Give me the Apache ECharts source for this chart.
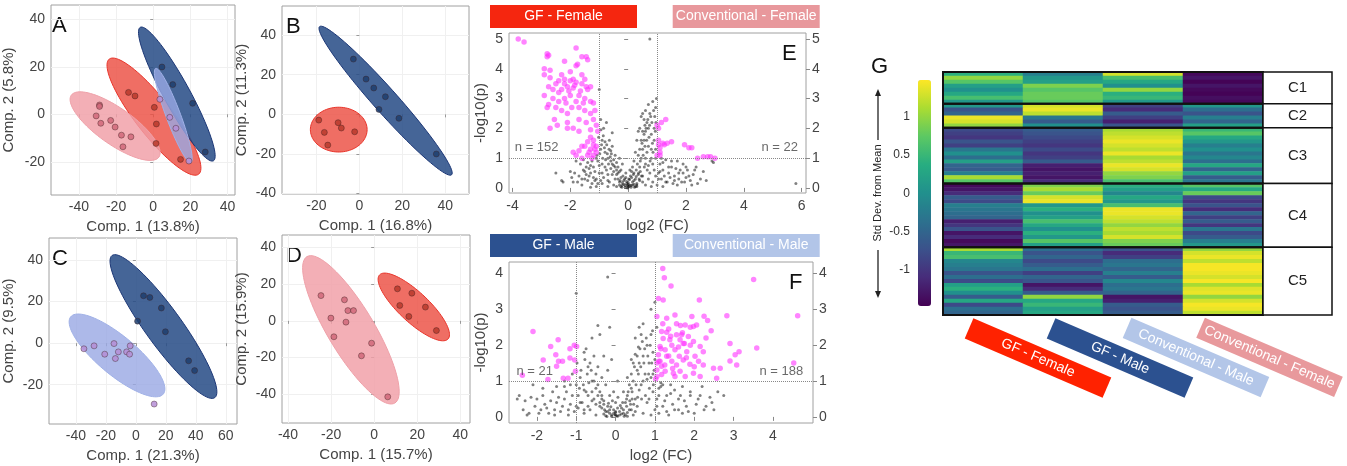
<!DOCTYPE html>
<html>
<head>
<meta charset="utf-8">
<script src="https://cdn.jsdelivr.net/npm/echarts@6/dist/echarts.min.js"></script>
<style>html,body{margin:0;padding:0;background:#fff}#main{width:1347px;height:466px}</style>
</head>
<body>
<div id="main"></div>
<script>
// ---- PCA panels: points [comp1, comp2] ----
const aGfF = [[-13.3,9.2],[-9.8,7.7],[0.6,2.9],[1.7,-4.1],[1.5,-12.3],[14.7,-19.0]];
const aConvF = [[-28.9,3.9],[-28.9,3.3],[-30.7,-0.7],[-28.2,-3.8],[-22.9,-2.6],[-20.5,-5.4],[-17.1,-8.8],[-16.3,-13.7],[-12.0,-9.5]];
const aGfM = [[4.7,19.9],[10.5,12.5],[21.2,4.6],[28.0,-15.9]];
const aConvM = [[3.6,6.3],[8.9,-1.3],[12.2,-5.9],[19.2,-19.7]];
const bGfF = [[-18.9,-2.9],[-16.3,-9.1],[-14.7,-15.5],[-9.9,-4.2],[-8.4,-6.9],[-2.2,-8.8]];
const bGfM = [[-2.8,27.9],[3.1,17.8],[6.7,13.3],[12.1,8.9],[9.1,2.5],[18.4,-2.0],[35.8,-20.0]];
const cGfM = [[5.1,22.8],[9.3,22.0],[17.0,16.9],[1.1,10.6],[19.7,5.5],[35.2,-8.5],[39.2,-13.2]];
const cConvM = [[-34.7,-2.7],[-27.9,-1.3],[-20.8,-5.3],[-14.6,-0.2],[-13.7,-7.4],[-11.7,-4.2],[-6.2,-4.2],[-4.2,-5.3],[-3.8,-1.3],[12.2,-29.3]];
const dConvF = [[-24.7,13.8],[-20.1,1.5],[-18.7,-8.7],[-13.8,11.5],[-12.2,5.6],[-13.1,-0.7],[-9.6,5.6],[-1.2,-12.2],[-5.9,-19.1],[6.3,-41.5]];
const dGfF = [[10.8,17.5],[17.5,15.1],[11.9,8.4],[23.8,7.5],[16.1,2.4],[28.9,-5.3]];

// ellipses: [centre x, centre y, semi-axis 1 (dx, dy), semi-axis 2 (dx, dy)] in data units
const aEllGfF = [0.4,-1.0,24.1,-24.2,7.6,4.8];
const aEllConvF = [-20.5,-5.0,23.6,-13.0,5.5,6.3];
const aEllGfM = [12.7,8.5,19.7,-28.1,6.1,2.75];
const aEllConvM = [10.8,-0.5,9.5,-19.8,3.6,1.1];
const bEllGfF = [-9.6,-7.7,13.2,0,0,11.3];
const bEllGfM = [12.2,6.9,30.7,-37.4,4.2,4.0];
const cEllConvM = [-12.6,-5.9,31.0,-18.5,7.8,7.4];
const cEllGfM = [18.4,8.0,34.3,-34.2,9.8,5.2];
const dEllConvF = [-10.8,-4.9,20.4,-40.0,9.3,6.5];
const dEllGfF = [18.4,7.6,15.9,-17.5,4.7,6.0];

// ---- volcano plots: [log2 FC, -log10 p] ----
const eUp = [[-3.8,5.0],[-3.6,4.9],[-2.8,4.5],[-2.75,4.45],[-2.8,4.4],[-1.8,4.7],[-1.6,4.4],[-1.45,4.4],[-1.4,4.3],[-1.75,4.15],[-1.8,4.1],[-2.2,4.25],[-2.9,4.0],[-2.7,3.95],[-2.9,3.8],[-2.7,3.7],[-2.4,3.6],[-2.2,3.5],[-2.0,3.6],[-1.9,3.65],[-1.8,3.55],[-1.6,3.5],[-1.45,3.4],[-1.4,3.3],[-1.3,3.4],[-2.1,3.4],[-2.3,3.3],[-2.5,3.5],[-2.6,3.3],[-2.75,3.4],[-2.9,3.1],[-2.6,3.0],[-2.4,2.9],[-2.2,3.0],[-2.0,3.1],[-1.8,2.9],[-1.7,3.1],[-1.5,3.0],[-1.3,2.9],[-1.2,2.85],[-1.15,2.6],[-1.3,2.5],[-1.5,2.6],[-1.7,2.7],[-1.95,2.7],[-2.1,2.5],[-2.3,2.6],[-2.5,2.7],[-2.75,2.8],[-2.8,2.7],[-2.55,2.3],[-2.1,2.2],[-1.9,2.0],[-1.7,2.3],[-1.45,2.2],[-1.2,2.3],[-2.7,2.0],[-2.45,2.1],[-2.1,2.0],[-1.7,1.9],[-1.3,1.7],[-1.2,1.6],[-1.4,1.55],[-1.5,1.4],[-1.3,1.3],[-1.15,1.3],[-1.1,1.2],[-1.6,1.4],[-1.7,1.25],[-1.4,1.1],[-1.2,1.1],[-1.8,1.1],[-1.9,1.2],[-1.1,1.4],[-1.05,1.9],[-1.1,2.1],[-1.3,1.95],[-2.0,3.9],[-2.3,3.8],[-1.9,3.35],[-2.4,3.2],[-1.6,3.8],[-1.5,3.65],[-2.15,2.85],[-1.55,2.85],[-1.2,1.45],[-1.35,1.2],[-1.25,1.0],[-1.6,1.0],[-2.2,3.65],[-1.85,3.45],[-1.65,3.25],[-2.05,3.25],
  [1.05,1.45],[1.1,1.35],[1.3,2.3],[1.15,2.2],[1.05,2.0],[1.1,1.1],[1.2,1.5],[1.35,1.5],[1.95,1.45],[2.1,1.35],[2.2,1.35],[2.4,1.0],[2.6,1.05],[2.75,1.05],[2.85,1.05],[3.0,1.0],[1.0,1.1],[1.1,1.2],[1.0,2.1],[1.05,1.6],[1.25,1.45],[1.5,1.55]];
const eAll = [[0.0,0.05],[0.05,0.1],[-0.05,0.15],[0.1,0.02],[-0.1,0.08],[0.15,0.2],[-0.15,0.25],[0.2,0.12],[-0.2,0.1],[0.25,0.3],[-0.25,0.35],[0.3,0.05],[-0.3,0.2],[0.35,0.45],[-0.35,0.5],[0.02,0.3],[-0.02,0.0],[0.08,0.4],[-0.08,0.35],[0.12,0.55],[-0.4,0.6],[-0.45,0.3],[-0.5,0.75],[-0.55,0.45],[-0.6,0.9],[-0.65,0.2],[-0.7,1.0],[-0.75,0.6],[-0.8,1.2],[-0.85,0.35],[-0.9,0.8],[-0.95,1.3],[-1.0,0.5],[-1.05,0.9],[-1.1,0.3],[-1.2,0.7],[-1.25,0.15],[-1.3,0.5],[-1.4,0.85],[-1.5,0.3],[-1.55,0.6],[-1.6,0.1],[-1.7,0.4],[-1.8,0.9],[-1.9,0.2],[-2.0,0.55],[-2.5,0.5],[-2.3,0.25],[-0.9,1.6],[-0.8,1.55],[-0.55,1.4],[-0.3,1.0],[-0.2,0.8],[-0.45,1.1],[-0.6,1.25],[-0.75,2.2],[-0.95,2.3],[-1.0,3.3],[-0.5,0.1],[-0.7,0.05],[-0.9,0.15],[-1.1,0.05],[-1.3,0.02],[-0.4,0.05],
  [0.4,0.7],[0.45,1.0],[0.5,1.3],[0.5,0.4],[0.55,1.6],[0.6,1.9],[0.6,0.8],[0.65,2.2],[0.7,1.4],[0.7,0.3],[0.75,2.5],[0.8,1.8],[0.8,1.0],[0.85,2.9],[0.9,2.0],[0.9,0.6],[0.95,2.7],[0.95,1.3],[0.5,2.5],[0.45,2.4],[0.35,1.9],[0.3,1.6],[0.25,1.2],[0.2,0.9],[0.4,2.0],[0.55,2.3],[0.65,1.2],[0.75,0.5],[0.85,0.2],[0.95,0.4],[1.1,0.8],[1.15,0.3],[1.2,0.6],[1.3,0.95],[1.35,0.2],[1.4,0.5],[1.5,0.7],[1.55,0.15],[1.6,0.4],[1.7,0.9],[1.75,0.3],[1.8,0.6],[1.9,0.5],[1.95,0.2],[2.0,0.7],[2.1,0.4],[2.2,0.1],[2.3,0.6],[2.5,0.3],[2.7,0.25],[2.9,0.9],[2.95,0.85],[0.3,0.1],[0.6,0.1],[0.8,0.05],[1.0,0.1],[1.2,0.05],[0.75,5.0],[5.8,0.15],[-2.25,0.2],[0.2,0.5],[0.15,0.7],[1.05,0.5],[0.7,2.0],[0.6,2.6],
  [-0.1,0.02],[0.0,0.12],[0.1,0.08],[-0.2,0.18],[0.2,0.25],[-0.3,0.1],[0.3,0.15],[-0.12,0.3],[0.12,0.35],[-0.05,0.22],[0.05,0.28],[-0.25,0.05],[0.25,0.05],[-0.18,0.4],[0.18,0.45],[-0.35,0.3],[0.38,0.3],[-0.4,0.45],[0.42,0.55],[-0.08,0.5],[0.06,0.6],[0.0,0.18],[-0.15,0.12],[0.15,0.1],[-0.28,0.25],[0.28,0.38],[-0.02,0.08],[0.03,0.04],[-0.22,0.02],[0.22,0.02],
  [-0.45,0.7],[-0.5,0.55],[-0.55,0.8],[-0.6,0.65],[-0.62,1.05],[-0.68,0.8],[-0.72,1.15],[-0.78,0.95],[-0.82,1.35],[-0.88,1.0],[-0.92,1.45],[-0.98,1.15],[-1.02,1.7],[-1.08,1.1],[-0.5,0.95],[-0.58,1.15],[-0.66,1.3],[-0.74,1.45],[-0.86,1.75],[-0.94,1.95],[-0.4,0.85],[-0.35,0.7],[-0.3,0.55],[-0.25,0.6],[-0.7,0.45],[-0.8,0.7],[-0.9,0.5],[-1.0,0.75],[-1.15,0.55],[-1.25,0.9],[-1.35,0.65],[-1.45,0.45],[-1.1,1.0],[-0.65,1.6],[-0.55,1.85],[-0.85,2.0],[-0.7,0.25],[-0.95,0.25],[-1.2,0.35],[-1.4,0.25],
  [0.35,1.1],[0.4,1.3],[0.42,0.9],[0.48,1.5],[0.52,1.1],[0.55,1.8],[0.58,1.4],[0.62,2.0],[0.64,1.6],[0.68,2.3],[0.72,1.7],[0.74,2.1],[0.78,2.4],[0.82,2.2],[0.84,1.5],[0.88,2.6],[0.92,2.4],[0.94,1.9],[0.98,3.0],[0.96,2.2],[0.86,1.2],[0.76,0.9],[0.66,0.6],[0.56,0.7],[0.46,0.4],[0.36,0.5],[0.32,0.8],[0.28,0.6],[0.45,1.6],[0.5,1.9],[0.58,2.1],[0.7,2.8],[0.6,1.0],[0.7,0.75],[0.8,1.3],[0.9,1.6],[0.85,0.8],[0.95,1.0],[0.4,0.25],[0.5,0.2],
  [1.05,0.3],[1.1,0.55],[1.2,0.85],[1.25,0.4],[1.3,0.2],[1.45,0.35],[1.5,0.9],[1.6,0.25],[1.65,0.65],[1.75,0.5],[1.85,0.2],[1.9,0.8],[2.0,0.35],[2.05,0.6],[2.15,0.25],[2.25,0.45],[2.35,0.7],[2.4,0.15],[2.6,0.55],[1.15,1.0],[1.4,0.7],[1.7,0.1],
  [-1.05,0.15],[-1.15,0.25],[-1.35,0.4],[-1.5,0.55],[-1.6,0.3],[-1.65,0.8],[-1.75,0.2],[-1.85,0.5],[-1.95,0.35],[-1.55,0.95],[-1.45,0.7],[-1.3,0.75]];
const fUp = [[1.2,4.14],[1.24,3.88],[1.41,3.65],[3.51,3.83],[1.09,3.3],[1.21,3.26],[2.13,3.26],[1.05,2.8],[1.3,2.75],[1.51,2.84],[1.94,2.8],[2.25,2.81],[2.83,2.82],[4.63,2.82],[2.34,2.69],[1.77,2.56],[1.98,2.52],[2.06,2.56],[2.43,2.4],[1.17,2.38],[1.3,2.36],[1.55,2.29],[1.68,2.29],[1.85,2.24],[1.21,2.19],[1.38,2.15],[1.64,2.15],[1.43,2.0],[1.72,2.05],[1.98,2.1],[2.15,1.96],[2.91,2.05],[1.13,1.96],[1.26,1.87],[1.51,1.87],[1.81,1.82],[2.23,1.82],[3.14,1.82],[3.59,1.92],[3.04,1.73],[1.09,1.73],[1.3,1.69],[1.62,1.69],[2.02,1.69],[1.13,1.55],[1.43,1.55],[1.72,1.59],[2.11,1.55],[2.91,1.56],[1.17,1.41],[1.55,1.45],[1.89,1.47],[2.23,1.45],[3.08,1.45],[2.49,1.36],[2.66,1.36],[4.53,1.5],[1.05,1.31],[1.26,1.27],[1.47,1.22],[1.64,1.27],[1.98,1.22],[2.15,1.13],[2.57,1.08],[1.05,1.13],[1.17,1.18],[1.51,1.13],[1.77,1.13],[1.02,1.06],[1.35,2.45],[1.55,2.6],[1.2,2.6],[1.7,2.35],[1.9,2.0],[1.45,1.35],[1.6,1.95],[1.8,1.65],[2.0,1.4],[1.35,1.7],[1.25,1.45],[1.1,1.55],[1.4,2.25],[1.65,2.55],[2.3,2.2],[1.15,1.9],[1.05,1.5],[1.9,2.5],[1.75,2.05],
  [-2.1,2.38],[-1.46,2.15],[-1.65,1.96],[-1.05,2.0],[-0.99,1.96],[-1.16,1.9],[-1.52,1.73],[-1.84,1.59],[-1.45,1.55],[-1.35,1.55],[-1.5,1.41],[-1.16,1.64],[-1.04,1.59],[-1.02,1.27],[-1.72,1.04],[-1.33,1.08],[-1.21,1.08],[-2.37,1.16]];
const fAll = [[0,0.05],[0.05,0.02],[-0.05,0.1],[0.1,0.15],[-0.1,0.05],[0.15,0.25],[-0.15,0.2],[0.2,0.1],[-0.2,0.3],[0.25,0.4],[-0.25,0.15],[0.3,0.6],[-0.3,0.45],[0.35,0.2],[-0.35,0.6],[0.4,0.8],[-0.4,0.3],[0.45,1.0],[-0.45,0.9],[0.5,0.5],[-0.5,1.2],[0.55,1.3],[-0.55,0.5],[0.6,1.5],[-0.6,1.0],[0.65,0.9],[-0.65,0.2],[0.7,1.7],[-0.7,1.4],[0.75,1.2],[-0.75,0.7],[0.8,2.0],[-0.8,1.8],[0.85,1.5],[-0.85,0.4],[0.9,2.3],[-0.9,1.1],[0.95,1.8],[-0.95,0.6],[0.6,2.5],[0.7,2.6],[0.5,2.2],[0.55,0.3],[-0.2,1.3],[-0.3,1.7],[-0.4,2.3],[-0.45,2.55],[-0.6,2.2],[-0.2,3.9],[-1.0,3.45],[-0.15,2.5],[-0.05,0.7],[0.05,1.0],[-0.1,1.6],[0.0,0.4],[0.2,0.7],[0.3,1.1],[0.4,1.6],
  [-1.0,0.3],[-1.1,0.6],[-1.15,0.9],[-1.2,0.2],[-1.3,0.5],[-1.4,0.15],[-1.5,0.4],[-1.6,0.7],[-1.7,0.1],[-1.8,0.35],[-1.9,0.2],[-2.0,0.5],[-2.2,0.1],[-2.3,0.45],[-2.45,0.6],[-2.25,0.05],[-2.1,0.9],[-1.85,0.8],[-1.3,1.0],[-1.1,1.2],[-1.0,0.9],[-1.2,0.05],[-1.55,0.05],
  [1.0,0.2],[1.05,0.5],[1.1,0.8],[1.15,0.95],[1.2,0.3],[1.3,0.6],[1.4,0.9],[1.5,0.2],[1.6,0.5],[1.7,0.85],[1.8,0.3],[1.9,0.6],[2.0,0.1],[2.1,0.5],[2.2,0.85],[2.3,0.3],[2.4,0.55],[2.5,0.2],[2.75,0.6],[1.0,1.6],[1.05,2.5],[1.0,3.2],[0.9,3.0],[0.95,1.2],[0.8,0.4],[0.7,0.1],[0.9,0.05],[1.1,0.1],[1.35,0.05],[0.45,0.05],[0.3,0.02],[-0.5,0.05],[-0.8,0.1],
  [-0.1,0.02],[0.0,0.12],[0.1,0.05],[-0.2,0.15],[0.2,0.2],[-0.3,0.08],[0.3,0.12],[-0.12,0.28],[0.12,0.32],[-0.05,0.2],[0.05,0.25],[-0.25,0.03],[0.25,0.06],[-0.18,0.38],[0.18,0.4],[-0.35,0.25],[0.38,0.35],[-0.4,0.4],[0.42,0.5],[-0.08,0.45],[0.06,0.55],[0.0,0.15],[-0.15,0.1],[0.15,0.08],[-0.28,0.2],[0.28,0.3],[-0.02,0.06],[0.03,0.03],[-0.22,0.01],[0.22,0.02],
  [-0.45,0.6],[-0.5,0.8],[-0.55,1.0],[-0.6,0.7],[-0.62,1.3],[-0.68,0.95],[-0.72,1.2],[-0.78,1.6],[-0.82,0.9],[-0.88,1.3],[-0.92,0.8],[-0.98,1.5],[-0.5,0.35],[-0.6,0.45],[-0.7,0.6],[-0.8,0.75],[-0.9,0.4],[-0.4,0.7],[-0.35,0.5],[-0.3,0.35],[-0.65,1.5],[-0.55,1.7],[-0.75,1.9],[-0.45,1.4],[-0.35,1.1],[-0.25,0.9],[-0.15,0.6],[-0.7,0.3],[-0.8,0.2],[-0.95,0.25],
  [0.35,0.9],[0.4,1.2],[0.42,0.7],[0.48,1.4],[0.52,0.9],[0.55,1.7],[0.58,1.2],[0.62,1.9],[0.64,1.4],[0.68,2.1],[0.72,1.5],[0.74,1.9],[0.78,2.2],[0.82,1.7],[0.84,1.2],[0.88,2.0],[0.92,1.5],[0.94,2.4],[0.98,1.3],[0.96,0.9],[0.86,0.8],[0.76,0.6],[0.66,0.5],[0.56,0.55],[0.46,0.35],[0.36,0.45],[0.32,0.7],[0.28,0.5],[0.45,1.5],[0.5,1.75],[0.58,1.95],[0.65,2.3],[0.6,0.75],[0.7,1.0],[0.8,1.05],[0.9,1.1],[0.85,0.5],[0.95,0.7],[0.4,0.2],[0.5,0.15],
  [1.05,0.3],[1.1,0.6],[1.2,0.9],[1.25,0.45],[1.3,0.15],[1.45,0.35],[1.5,0.75],[1.6,0.2],[1.65,0.6],[1.75,0.45],[1.85,0.15],[1.9,0.7],[2.05,0.35],[2.15,0.6],[2.25,0.2],[2.45,0.4],[2.6,0.7],[1.15,0.85],[1.4,0.65],[1.7,0.1],
  [-1.05,0.15],[-1.15,0.35],[-1.25,0.7],[-1.35,0.3],[-1.45,0.55],[-1.55,0.2],[-1.65,0.45],[-1.75,0.25],[-1.85,0.6],[-1.95,0.1],[-2.05,0.3],[-2.15,0.55],[-2.35,0.2],[-2.5,0.5],[-1.5,0.85],[-1.3,0.85]];
const eCounts = [[-3.92,1.37,'n = 152','left'],[5.87,1.37,'n = 22','right']];
const fCounts = [[-2.52,1.27,'n = 21','left'],[4.77,1.27,'n = 188','right']];

// ---- heatmap (std dev from mean), columns in group order ----
const groups = ['GF - Female','GF - Male','Conventional - Male','Conventional - Female'];
const clusterNames = ['C1','C2','C3','C4','C5'];
const c1 = [[0.4,-0.2,1.3,-1.4],[1.0,0.1,0.6,-1.3],[0.7,0.2,0.3,-1.45],[0.2,0.9,0.0,-1.3],[0.0,0.7,1.0,-1.4],[0.3,0.8,0.4,-1.45],[0.6,0.8,0.5,-1.35],[0.1,0.7,0.1,-1.4]];
const c2 = [[0.1,1.3,-0.9,0.1],[-0.7,1.4,-1.1,-0.4],[-0.5,1.2,-0.6,-0.7],[1.4,-0.3,-0.9,-0.2],[1.3,-0.6,-1.2,-0.5],[1.0,0.0,-0.7,0.2]];
const c3 = [[-0.8,-0.6,1.1,0.5],[-0.9,-0.7,1.2,0.7],[-1.0,-0.8,1.3,0.3],[-0.7,-0.9,1.4,0.1],[-0.9,-1.0,1.3,-0.2],[-0.3,-0.8,1.2,0.0],[0.0,-1.0,1.4,-0.3],[-0.4,-0.9,1.1,-0.1],[0.2,-0.6,1.2,-0.4],[-0.5,-1.2,1.4,0.3],[-0.6,-1.3,1.3,-0.5],[-0.2,-1.2,1.0,0.2],[1.1,-1.3,0.9,-0.6],[0.7,-1.1,0.6,-0.3]];
const c4 = [[-1.4,0.9,0.4,0.7],[-1.3,1.1,0.2,0.3],[-1.1,0.8,-0.1,0.8],[-0.6,1.3,0.3,-0.8],[-0.8,1.4,0.1,-1.0],[-0.2,0.1,0.6,-0.7],[-0.3,0.4,1.4,-1.1],[-0.4,0.0,1.4,-0.5],[-0.5,0.2,1.3,-0.9],[-1.2,0.6,1.2,-0.6],[-1.0,0.3,1.0,-1.0],[-0.7,0.0,1.2,-0.3],[-1.3,0.4,1.1,-0.8],[-1.1,0.1,1.3,-0.6],[-1.4,0.7,0.9,-0.2],[-1.3,0.2,0.8,0.1]];
const c5 = [[1.1,-0.4,-0.7,1.0],[0.5,-0.7,-1.1,1.3],[0.6,-0.5,-0.9,1.4],[-0.1,-0.8,-0.4,1.2],[-0.2,-0.6,-0.3,1.45],[-0.3,-0.4,-0.5,1.45],[-0.7,-0.9,-0.2,1.4],[-0.4,-0.5,-0.6,1.3],[-0.8,-0.7,-0.1,1.45],[0.2,-1.3,-0.4,1.1],[0.4,-1.1,-0.3,1.35],[0.0,-0.6,-0.5,1.4],[-0.6,1.0,-1.3,1.0],[0.3,0.3,-1.2,1.3],[-0.8,0.5,-0.6,1.45],[-0.4,0.2,-0.7,1.4],[-0.5,0.3,-0.6,1.2]];
const colorbarTicks = [-1,-0.5,0,0.5,1];

const FONT = 'Liberation Sans, Arial, sans-serif';
const TXT = '#444';
const viridis = ['#440154','#472c7a','#3b518b','#2c718e','#21908d','#27ad81','#5cc863','#aadc32','#fde725'];
const sty = {
  gfF:   {fill:'rgba(236,78,66,0.82)',  stroke:'#e8342a', pt:'#b8392c'},
  convF: {fill:'rgba(240,158,166,0.82)',stroke:'#eea0a8', pt:'#d0687a'},
  gfM:   {fill:'rgba(38,76,134,0.86)',  stroke:'#1b3675', pt:'#1f3f6e'},
  convM: {fill:'rgba(152,168,228,0.8)', stroke:'#9fb0e6', pt:'#b58ed6'}
};

const pca = [
  {l:'A', g:{left:48,top:5,width:187,height:190}, x:[-55,44], y:[-34,46], xt:[-40,-20,0,20,40], yt:[-20,0,20,40], xn:'Comp. 1 (13.8%)', yn:'Comp. 2 (5.8%)', gap:35,
   sets:[['gfF',aGfF,aEllGfF],['convF',aConvF,aEllConvF],['gfM',aGfM,aEllGfM],['convM',aConvM,aEllConvM]]},
  {l:'B', g:{left:282,top:6,width:187,height:188}, x:[-36,51], y:[-40.2,54.7], xt:[-20,0,20,40], yt:[-40,-20,0,20,40], xn:'Comp. 1 (16.8%)', yn:'Comp. 2 (11.3%)', gap:33,
   sets:[['gfF',bGfF,bEllGfF],['gfM',bGfM,bEllGfM]]},
  {l:'C', g:{left:48,top:238,width:189,height:186}, x:[-58,67.5], y:[-38.9,50.6], xt:[-40,-20,0,20,40,60], yt:[-20,0,20,40], xn:'Comp. 1 (21.3%)', yn:'Comp. 2 (9.5%)', gap:33,
   sets:[['convM',cConvM,cEllConvM],['gfM',cGfM,cEllGfM]]},
  {l:'D', g:{left:282,top:235,width:188,height:188}, x:[-42.8,44.5], y:[-55.8,46.9], xt:[-40,-20,0,20,40], yt:[-40,-20,0,20,40], xn:'Comp. 1 (15.7%)', yn:'Comp. 2 (15.9%)', gap:33,
   sets:[['convF',dConvF,dEllConvF],['gfF',dGfF,dEllGfF]]}
];

const grid = [], xAxis = [], yAxis = [], series = [], graphic = [];
const lbl = (vals, extra) => Object.assign({customValues: vals, fontSize: 14, color: TXT, fontFamily: FONT}, extra || {});

function ellipseSeries(gi, e, s) {
  return {
    type: 'custom', xAxisIndex: gi, yAxisIndex: gi, silent: true, data: [e],
    renderItem: (params, api) => {
      const pts = [];
      for (let i = 0; i < 90; i++) {
        const t = i / 90 * Math.PI * 2;
        pts.push(api.coord([api.value(0) + Math.cos(t) * api.value(2) + Math.sin(t) * api.value(4),
                            api.value(1) + Math.cos(t) * api.value(3) + Math.sin(t) * api.value(5)]));
      }
      return {type: 'polygon', shape: {points: pts}, style: {fill: s.fill, stroke: s.stroke, lineWidth: 1}};
    }
  };
}

pca.forEach((p, i) => {
  grid.push(Object.assign({show: true, borderColor: '#a0a0a0', borderWidth: 1}, p.g));
  xAxis.push({gridIndex: i, type: 'value', min: p.x[0], max: p.x[1],
    axisLine: {show: false}, axisTick: {show: true, customValues: p.xt, length: 3, lineStyle: {color: '#999'}},
    axisLabel: lbl(p.xt, {margin: 5}), splitLine: {lineStyle: {color: '#f0f0f0'}},
    name: p.xn, nameLocation: 'middle', nameGap: 24, nameTextStyle: {fontSize: 15, color: TXT, fontFamily: FONT}});
  yAxis.push({gridIndex: i, type: 'value', min: p.y[0], max: p.y[1],
    axisLine: {show: false}, axisTick: {show: true, customValues: p.yt, length: 3, lineStyle: {color: '#999'}},
    axisLabel: lbl(p.yt, {margin: 6}), splitLine: {lineStyle: {color: '#f0f0f0'}},
    name: p.yn, nameLocation: 'middle', nameGap: p.gap, nameTextStyle: {fontSize: 15, color: TXT, fontFamily: FONT}});
  p.sets.forEach(([k, pts]) => series.push({type: 'scatter', xAxisIndex: i, yAxisIndex: i, data: pts, symbolSize: 6,
    itemStyle: {color: sty[k].pt, opacity: 0.85, borderColor: 'rgba(60,30,30,0.6)', borderWidth: 0.8}}));
  p.sets.forEach(([k, pts, e]) => series.push(ellipseSeries(i, e, sty[k])));
  graphic.push({type: 'text', left: p.g.left + 4, top: p.g.top + 10, style: {text: p.l, fontSize: 22, fill: '#111', fontFamily: FONT}});
});

// volcano panels E, F
const volc = [
  {l:'E', g:{left:509,top:33,width:297,height:160}, x:[-4.12,6.15], y:[-0.17,5.2], xt:[-4,-2,0,2,4,6], yt:[0,1,2,3,4,5], up:eUp, all:eAll, n:eCounts,
   heads:[['GF - Female','#f5260f'],['Conventional - Female','#e8989c']], headTop:5},
  {l:'F', g:{left:509,top:262,width:304,height:161}, x:[-2.71,5.02], y:[-0.17,4.32], xt:[-2,-1,0,1,2,3,4], yt:[0,1,2,3,4], up:fUp, all:fAll, n:fCounts,
   heads:[['GF - Male','#2c5190'],['Conventional - Male','#b2c5e8']], headTop:234}
];
volc.forEach((v, j) => {
  const gi = 4 + j, yl = 4 + j * 2;
  grid.push(Object.assign({show: true, borderColor: '#a0a0a0', borderWidth: 1}, v.g));
  xAxis.push({gridIndex: gi, type: 'value', min: v.x[0], max: v.x[1], axisLine: {show: false},
    axisTick: {show: true, customValues: v.xt, length: 4, lineStyle: {color: '#888'}},
    axisLabel: lbl(v.xt, {margin: 6}), splitLine: {show: false},
    name: 'log2 (FC)', nameLocation: 'middle', nameGap: 25, nameTextStyle: {fontSize: 15, color: TXT, fontFamily: FONT}});
  [0, 1].forEach(side => yAxis.push({gridIndex: gi, type: 'value', min: v.y[0], max: v.y[1], position: side ? 'right' : 'left',
    axisLine: {show: false}, axisTick: {show: true, customValues: v.yt, length: 4, lineStyle: {color: '#888'}},
    axisLabel: lbl(v.yt, {margin: 6}), splitLine: {show: false},
    name: side ? '' : '-log10(p)', nameLocation: 'middle', nameGap: 21, nameTextStyle: {fontSize: 15, color: TXT, fontFamily: FONT}}));
  series.push({type: 'scatter', xAxisIndex: gi, yAxisIndex: yl, data: v.all, symbolSize: 3, silent: true,
    itemStyle: {color: 'rgba(0,0,0,0.62)'},
    markLine: {silent: true, symbol: 'none', label: {show: false}, lineStyle: {type: 'dotted', color: '#888', width: 1},
      data: [{xAxis: -1}, {xAxis: 1}, {yAxis: 1}]}});
  series.push({type: 'scatter', xAxisIndex: gi, yAxisIndex: yl, data: v.up, symbolSize: 5.5, silent: true,
    itemStyle: {color: 'rgba(255,50,255,0.75)'}});
  series.push({type: 'scatter', xAxisIndex: gi, yAxisIndex: yl, symbolSize: 0, silent: true,
    data: v.n.map(d => ({value: [d[0], d[1]], label: {formatter: d[2], align: d[3]}})),
    label: {show: true, position: 'inside', fontSize: 13, color: TXT, fontFamily: FONT}});
  graphic.push({type: 'text', left: v.g.left + v.g.width - 24, top: v.g.top + 10, style: {text: v.l, fontSize: 22, fill: '#111', fontFamily: FONT}});
  v.heads.forEach((h, k) => graphic.push({type: 'group', left: 490 + k * 182.7, top: v.headTop, children: [
    {type: 'rect', shape: {x: 0, y: 0, width: 147, height: 23}, style: {fill: h[1]}},
    {type: 'text', x: 73.5, y: 11.5, style: {text: h[0], fill: '#fff', fontSize: 14, fontFamily: FONT, align: 'center', verticalAlign: 'middle'}}]}));
});

// heatmap G
const clusters = [c1, c2, c3, c4, c5];
const heatData = [], rows = [], bounds = [];
let r = 0;
clusters.forEach(c => {
  bounds.push([0, r, r + c.length - 1]);
  c.forEach(vals => { vals.forEach((v, col) => heatData.push([col, r, v])); rows.push('r' + r); r++; });
});
grid.push({left: 943, top: 72, width: 320, height: 243});
xAxis.push({gridIndex: 6, type: 'category', data: groups, show: false});
yAxis.push({gridIndex: 6, type: 'category', data: rows, inverse: true, show: false});
const heatIndex = series.length;
series.push({type: 'heatmap', xAxisIndex: 6, yAxisIndex: 8, data: heatData, silent: true, progressive: 0});
series.push({type: 'custom', xAxisIndex: 6, yAxisIndex: 8, data: bounds, silent: true, z: 10,
  renderItem: (params, api) => {
    const bw = api.size([1, 1]);
    const top = api.coord([0, api.value(1)])[1] - bw[1] / 2;
    const bot = api.coord([0, api.value(2)])[1] + bw[1] / 2;
    const left = api.coord([0, 0])[0] - bw[0] / 2;
    const right = left + bw[0] * 4;
    return {type: 'group', children: [
      {type: 'rect', shape: {x: left, y: top, width: right - left, height: bot - top}, style: {fill: 'none', stroke: '#111', lineWidth: 2}},
      {type: 'rect', shape: {x: right, y: top, width: 69, height: bot - top}, style: {fill: '#fff', stroke: '#111', lineWidth: 1.5}},
      {type: 'text', x: right + 34.5, y: (top + bot) / 2, style: {text: clusterNames[params.dataIndex], fontSize: 15, fill: '#222', fontFamily: FONT, align: 'center', verticalAlign: 'middle'}}
    ]};
  }});

// colorbar axis
grid.push({left: 918, top: 80, width: 13, height: 226});
xAxis.push({gridIndex: 7, type: 'value', show: false});
yAxis.push({gridIndex: 7, type: 'value', min: -1.47, max: 1.48, axisLine: {show: false}, axisTick: {show: false},
  splitLine: {show: false}, axisLabel: {customValues: colorbarTicks, fontSize: 12, color: '#333', fontFamily: FONT, margin: 8}});

// G annotations
graphic.push({type: 'text', left: 871, top: 56, style: {text: 'G', fontSize: 22, fill: '#111', fontFamily: FONT}});
graphic.push({type: 'text', x: 878, y: 193, rotation: Math.PI / 2, style: {text: 'Std Dev. from Mean', fontSize: 11, fill: '#222', fontFamily: FONT, align: 'center', verticalAlign: 'middle'}});
graphic.push({type: 'line', shape: {x1: 878, y1: 140, x2: 878, y2: 93}, style: {stroke: '#222', lineWidth: 1.3}});
graphic.push({type: 'polygon', shape: {points: [[875, 96], [881, 96], [878, 89]]}, style: {fill: '#222'}});
graphic.push({type: 'line', shape: {x1: 878, y1: 250, x2: 878, y2: 294}, style: {stroke: '#222', lineWidth: 1.3}});
graphic.push({type: 'polygon', shape: {points: [[875, 291], [881, 291], [878, 298]]}, style: {fill: '#222'}});
const groupColors = ['#ff2200', '#2c5190', '#b3c6e8', '#e8999c'];
const labelCentres = [[1038, 358], [1120, 358], [1196, 357.5], [1269.5, 357.3]];
groups.forEach((g, k) => graphic.push({type: 'group', x: labelCentres[k][0], y: labelCentres[k][1], rotation: -0.405, children: [
  {type: 'rect', shape: {x: -75, y: -11, width: 150, height: 22}, style: {fill: groupColors[k]}},
  {type: 'text', x: 0, y: 0, style: {text: g, fill: '#fff', fontSize: 14, fontFamily: FONT, align: 'center', verticalAlign: 'middle'}}]}));

const chart = echarts.init(document.getElementById('main'));
chart.setOption({
  animation: false,
  grid, xAxis, yAxis, series, graphic,
  visualMap: {type: 'continuous', min: -1.47, max: 1.48, seriesIndex: heatIndex, left: 918, top: 80, padding: 0,
    itemWidth: 13, itemHeight: 226, calculable: false, text: null, showLabel: false, hoverLink: false,
    inRange: {color: viridis}}
});
window.addEventListener('resize', () => chart.resize());
</script>
</body>
</html>
